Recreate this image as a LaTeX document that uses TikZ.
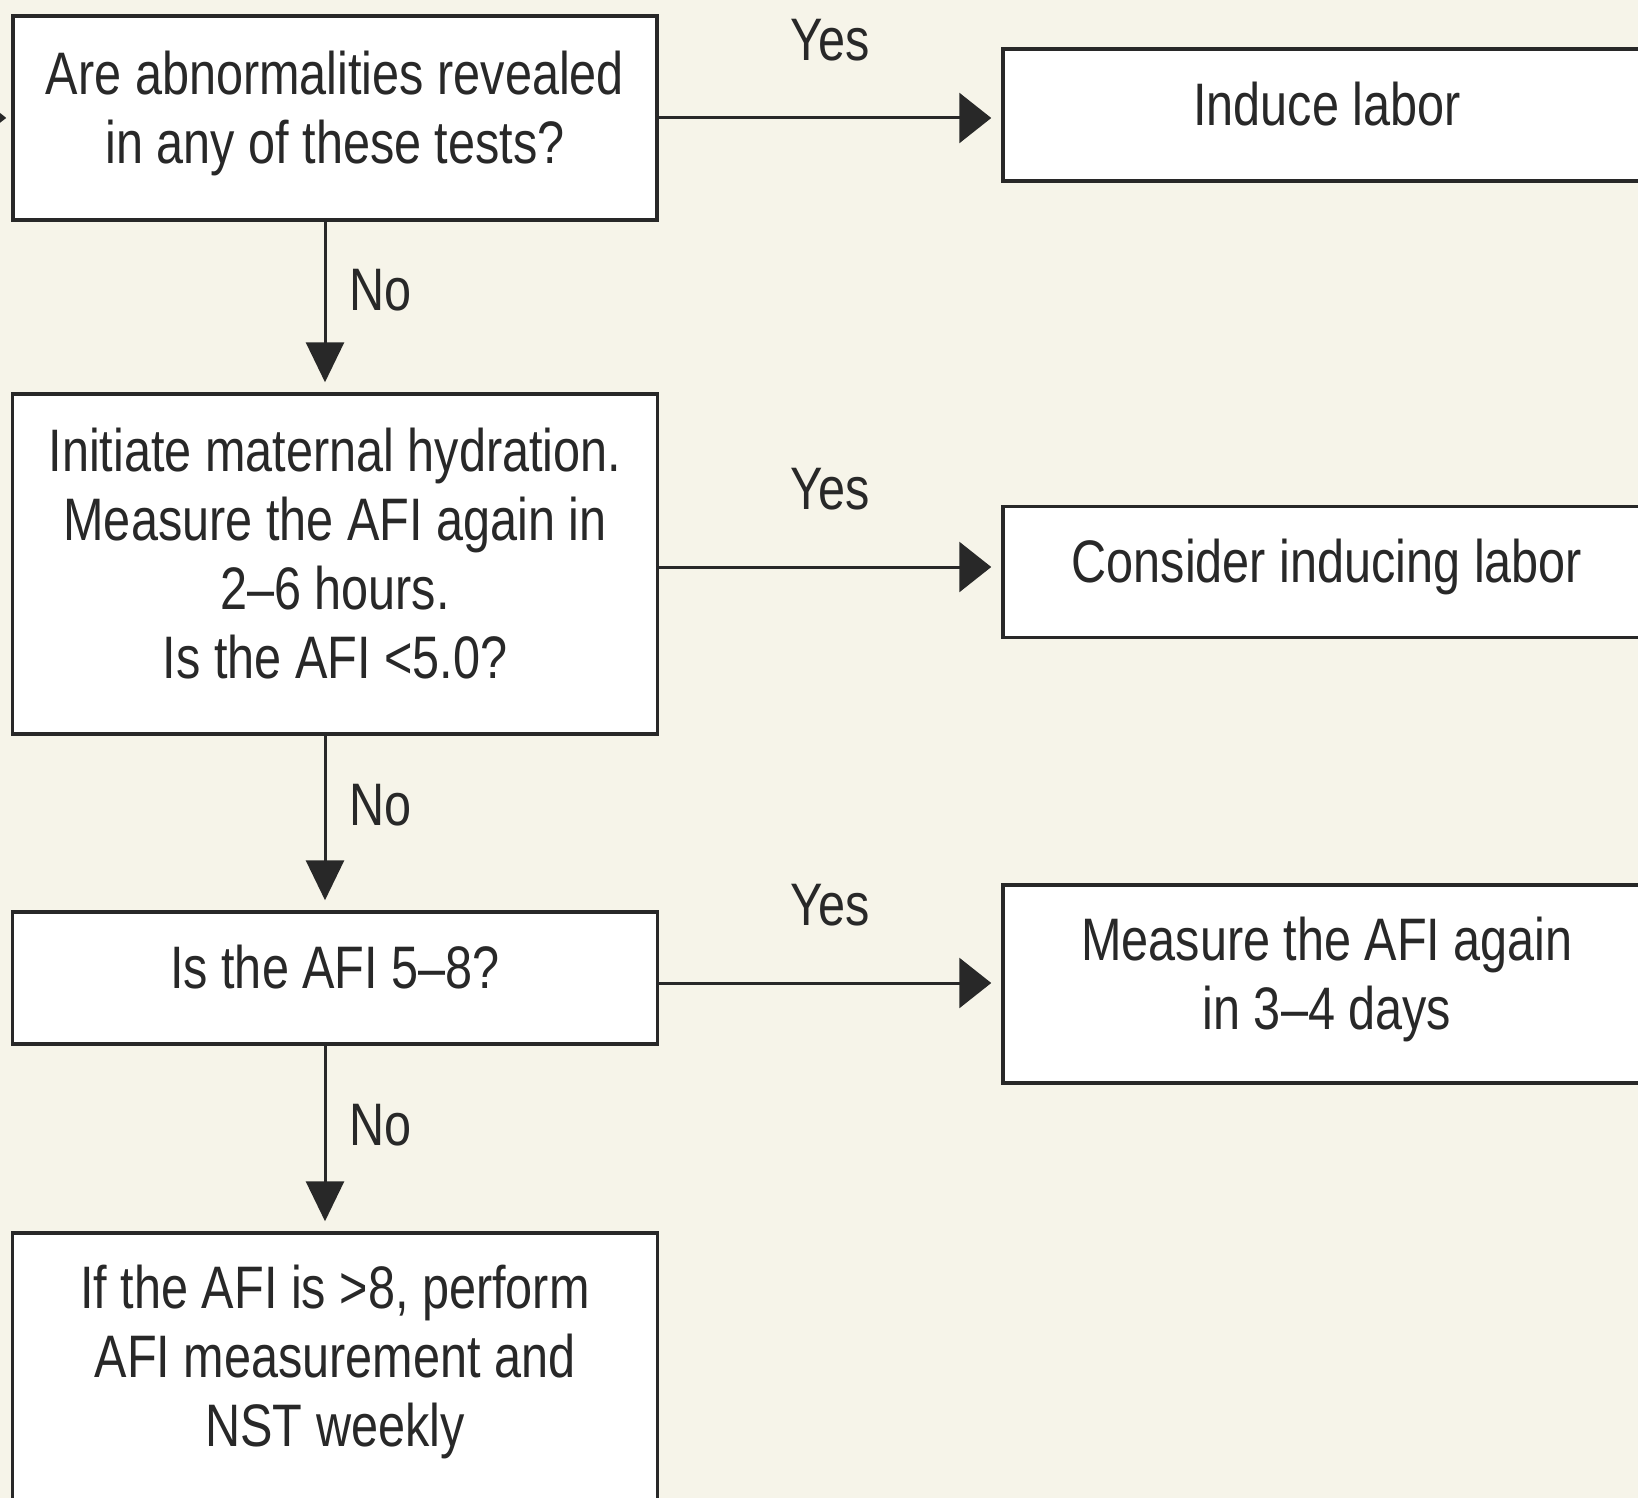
\documentclass[tikz,border=0pt]{standalone}
\usepackage{fontspec}
\setmainfont[FakeStretch=0.81]{Liberation Sans}
\usepackage{xcolor}
\usepackage{tikz}
\usetikzlibrary{arrows.meta}
\definecolor{paper}{RGB}{246,244,233}
\definecolor{ink}{RGB}{40,40,40}
\tikzset{
	box/.style={
			draw=ink, line width=3.5pt, fill=white, text=ink,
			align=center, inner sep=0pt,
			font=\fontsize{60}{69}\selectfont,
			execute at end node={\rule[-22pt]{0pt}{0pt}}
		},
	yesarrow/.style={draw=ink, line width=3pt, -{Triangle[length=32pt,width=50pt]}, shorten >=10pt},
	noarrow/.style={draw=ink, line width=3pt, -{Triangle[length=40pt,width=38pt]}, shorten >=10pt},
	lbl/.style={text=ink, inner sep=0pt, font=\fontsize{60}{69}\selectfont}
}

\begin{document}
\begin{tikzpicture}[x=1pt, y=-1pt]
			\useasboundingbox (0, 0) rectangle (1638, 1498);
			\fill[paper] (0, 0) rectangle (1638, 1498);
			\clip (0, 0) rectangle (1638, 1498);

			% left column
			\node[box, minimum width=644, minimum height=204] (abnorm) at (335, 118) {Are abnormalities revealed\\in any of these tests?};
			\node[box, minimum width=645, minimum height=340] (hydrate) at (335, 564) {Initiate maternal hydration.\\Measure the AFI again in\\2--6 hours.\\Is the AFI <5.0?};
			\node[box, minimum width=645, minimum height=132] (midafi) at (335, 978) {Is the AFI 5--8?};
			\node[box, minimum width=645, minimum height=280] (weekly) at (335, 1373) {};
			\node[lbl, align=center] (weeklytext) at (335, 1362) {If the AFI is >8, perform\\AFI measurement and\\NST weekly};

			% right column
			\node[box, minimum width=648, minimum height=132] (induce) at (1327, 115) {Induce labor};
			\node[box, minimum width=648, minimum height=131] (consider) at (1327, 572) {Consider inducing labor};
			\node[box, minimum width=648, minimum height=198] (remeasure) at (1327, 984) {Measure the AFI again\\in 3--4 days};

			\coordinate (entry) at (-80, 117);
			\draw[yesarrow, shorten >=5pt] (entry) -- (abnorm.west);

			\draw[yesarrow] (abnorm.east) -- (abnorm.east -| induce.west) node[lbl, midway, above=55pt]{Yes};
			\draw[yesarrow] ([yshift=-3pt]hydrate.east) -- ([yshift=-3pt]hydrate.east -| consider.west) node[lbl, midway, above=55pt]{Yes};
			\draw[yesarrow] ([yshift=-5pt]midafi.east) -- ([yshift=-5pt]midafi.east -| remeasure.west) node[lbl, midway, above=55pt]{Yes};

			\draw[noarrow] ([xshift=-10pt]abnorm.south) -- ([xshift=-10pt]hydrate.north) node[lbl, pos=0.40, right=23pt]{No};
			\draw[noarrow] ([xshift=-10pt]hydrate.south) -- ([xshift=-10pt]midafi.north) node[lbl, pos=0.40, right=23pt]{No};
			\draw[noarrow] ([xshift=-10pt]midafi.south) -- ([xshift=-10pt]weekly.north) node[lbl, pos=0.43, right=23pt]{No};
		\end{tikzpicture}
\end{document}
